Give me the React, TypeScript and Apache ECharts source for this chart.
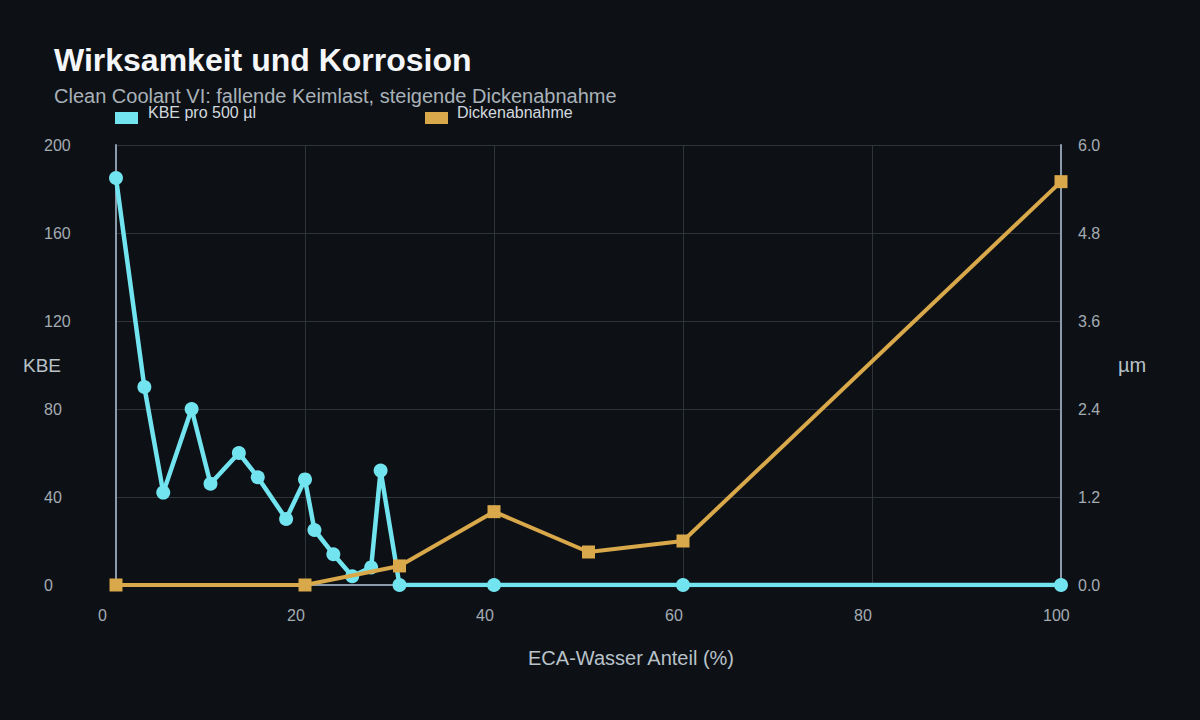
import React, { useEffect, useRef } from "react";
import * as echarts from "echarts";

// ECA water share (%) at each KBE sample
const kbeShare = [0, 3, 5, 8, 10, 13, 15, 18, 20, 21, 23, 25, 27, 28, 30, 40, 60, 100];
// colony forming units per 500 µl
const kbeValues = [185, 90, 42, 80, 46, 60, 49, 30, 48, 25, 14, 4, 8, 52, 0, 0, 0, 0];

// ECA water share (%) at each thickness measurement
const lossShare = [0, 20, 30, 40, 50, 60, 100];
// thickness loss in µm
const lossValues = [0, 0, 0.26, 1.0, 0.45, 0.6, 5.5];

const titleText = "Wirksamkeit und Korrosion";
const subtitleText = "Clean Coolant VI: fallende Keimlast, steigende Dickenabnahme";
const kbeName = "KBE pro 500 µl";
const lossName = "Dickenabnahme";

const CYAN = "#72e4ef";
const GOLD = "#d9a84a";
const AXIS = "#8b9bab";
const GRID = "#2f3439";
const TICK_TEXT = "#a3abb3";
const NAME_TEXT = "#b9c1c9";

export default function App() {
  const ref = useRef<HTMLDivElement>(null);

  useEffect(() => {
    if (!ref.current) return;
    const chart = echarts.init(ref.current, null, { renderer: "svg" });
    const font = "'Liberation Sans', Arial, Helvetica, sans-serif";

    // legend swatches sit a little lower than their captions, so each
    // series gets a swatch-only legend and a caption-only legend
    const swatch = (name: string, left: number) => ({
      data: [name],
      left,
      top: 112,
      padding: 0,
      icon: "rect",
      itemWidth: 23,
      itemHeight: 12,
      formatter: () => "",
      textStyle: { fontSize: 1 },
    });
    const caption = (name: string, left: number) => ({
      data: [name],
      left,
      top: 104,
      padding: 0,
      icon: "rect",
      itemWidth: 0,
      itemHeight: 0,
      itemStyle: { borderWidth: 0, opacity: 0 },
      textStyle: { color: "#d3d9df", fontSize: 16, fontFamily: font },
    });

    chart.setOption({
      animation: false,
      backgroundColor: "#0d1115",
      textStyle: { fontFamily: font },
      title: [
        {
          text: titleText,
          left: 54,
          top: 44,
          padding: 0,
          textStyle: { color: "#f4f6f8", fontSize: 32, fontWeight: "bold", fontFamily: font },
        },
        {
          text: subtitleText,
          left: 54,
          top: 86,
          padding: 0,
          textStyle: { color: "#a9b1b9", fontSize: 20, fontWeight: "normal", fontFamily: font },
        },
      ],
      legend: [
        swatch(kbeName, 115),
        caption(kbeName, 143),
        swatch(lossName, 425),
        caption(lossName, 452),
      ],
      grid: {
        left: 116,
        right: 139,
        top: 145,
        bottom: 135,
        containLabel: false,
        outerBoundsMode: "none",
      },
      xAxis: {
        type: "value",
        min: 0,
        max: 100,
        interval: 20,
        name: "ECA-Wasser Anteil (%)",
        nameLocation: "middle",
        nameGap: 63,
        nameMoveOverlap: false,
        nameTextStyle: {
          color: NAME_TEXT,
          fontSize: 20,
          align: "center",
          verticalAlign: "top",
          padding: [0, 0, 0, 85],
        },
        axisLine: { show: true, lineStyle: { color: AXIS, width: 2 } },
        axisTick: { show: false },
        axisLabel: {
          color: TICK_TEXT,
          fontSize: 16,
          margin: 22,
          align: "left",
          padding: [0, 0, 0, -18],
        },
        splitLine: { show: true, lineStyle: { color: GRID, width: 1 } },
      },
      yAxis: [
        {
          type: "value",
          min: 0,
          max: 200,
          interval: 40,
          name: "KBE",
          nameLocation: "middle",
          nameRotate: 0,
          nameGap: 55,
          nameMoveOverlap: false,
          nameTextStyle: { color: NAME_TEXT, fontSize: 19, verticalAlign: "middle" },
          axisLine: { show: true, lineStyle: { color: AXIS, width: 2 } },
          axisTick: { show: false },
          axisLabel: { color: TICK_TEXT, fontSize: 16, margin: 72, align: "left" },
          splitLine: { show: true, lineStyle: { color: GRID, width: 1 } },
        },
        {
          type: "value",
          min: 0,
          max: 6,
          interval: 1.2,
          position: "right",
          name: "µm",
          nameLocation: "middle",
          nameRotate: 0,
          nameGap: 57,
          nameMoveOverlap: false,
          nameTextStyle: { color: NAME_TEXT, fontSize: 20, verticalAlign: "middle" },
          axisLine: { show: true, lineStyle: { color: AXIS, width: 2 } },
          axisTick: { show: false },
          axisLabel: {
            color: TICK_TEXT,
            fontSize: 16,
            margin: 17,
            align: "left",
            formatter: (v: number) => v.toFixed(1),
          },
          splitLine: { show: false },
        },
      ],
      series: [
        {
          name: kbeName,
          type: "line",
          yAxisIndex: 0,
          data: kbeShare.map((x, i) => [x, kbeValues[i]]),
          symbol: "circle",
          symbolSize: 14,
          color: CYAN,
          lineStyle: { color: CYAN, width: 4.5 },
          itemStyle: { color: CYAN },
          z: 2,
        },
        {
          name: lossName,
          type: "line",
          yAxisIndex: 1,
          data: lossShare.map((x, i) => [x, lossValues[i]]),
          symbol: "rect",
          symbolSize: 13,
          color: GOLD,
          lineStyle: { color: GOLD, width: 4 },
          itemStyle: { color: GOLD },
          z: 3,
        },
      ],
    });

    return () => chart.dispose();
  }, []);

  return <div ref={ref} style={{ width: 1200, height: 720, position: "absolute", left: 0, top: 0 }} />;
}
